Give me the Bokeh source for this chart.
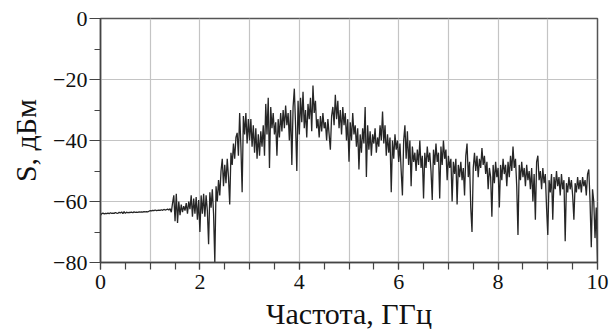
import numpy as np
from bokeh.plotting import figure
from bokeh.models import Range1d, SingleIntervalTicker, FixedTicker, Label
from bokeh.embed import file_html
from bokeh.resources import INLINE

band0 = [-64.5, -64.0, -63.8, -64.1, -63.9, -64.0, -63.8, -64.0, -63.7, -63.9,
         -63.8, -63.9, -63.6, -63.8, -63.9, -63.5, -63.8, -63.4, -64.0, -63.3,
         -63.9, -63.5, -63.7, -63.6, -63.6, -63.5, -63.7, -63.4, -63.6, -63.5,
         -63.6, -63.4, -63.5, -63.4, -63.5, -63.3, -63.4, -63.3, -63.4, -63.2]
band1 = [-63.0, -63.1, -62.9, -63.0, -62.8, -63.0, -62.9, -62.8, -62.9, -62.7,
         -62.9, -62.6, -62.8, -62.7, -62.5, -62.8, -62.4, -63.5, -60.5, -58.0,
         -66.5, -57.5, -67.0, -60.0, -64.5, -61.0, -63.5, -61.5, -63.0, -60.5,
         -64.0, -60.0, -62.5, -58.0, -65.0, -59.0, -64.0, -58.5, -66.0, -59.5]
band2 = [-70.0, -58.0, -64.0, -57.5, -65.0, -58.0, -63.0, -74.0, -57.0, -62.0,
         -56.0, -64.0, -80.0, -55.0, -60.0, -53.0, -58.0, -50.0, -46.0, -55.0,
         -48.0, -54.0, -46.0, -52.0, -61.0, -44.0, -48.0, -41.0, -46.0, -39.0,
         -37.5, -45.0, -31.0, -42.0, -57.0, -32.0, -38.0, -31.0, -41.0, -33.0]
band3 = [-40.0, -33.0, -42.0, -35.0, -44.0, -36.0, -46.0, -38.0, -45.0, -37.0,
         -42.0, -35.0, -45.0, -28.0, -38.0, -26.0, -49.0, -29.0, -36.0, -31.0,
         -38.0, -34.0, -45.0, -33.0, -39.0, -31.0, -37.0, -30.0, -36.0, -28.5,
         -35.0, -31.0, -40.0, -30.0, -48.0, -29.0, -23.0, -35.0, -50.0, -27.0]
band4 = [-38.0, -26.0, -34.0, -24.0, -36.0, -30.0, -39.0, -28.0, -33.0, -26.0,
         -37.0, -22.0, -31.0, -27.0, -36.0, -33.0, -39.0, -32.0, -37.0, -31.0,
         -36.0, -34.0, -40.0, -33.0, -38.0, -43.0, -32.0, -29.0, -35.0, -25.0,
         -33.0, -27.0, -36.0, -30.0, -38.0, -29.0, -35.0, -31.0, -40.0, -33.0]
band5 = [-47.0, -34.0, -40.0, -31.0, -38.0, -35.0, -42.0, -36.0, -49.5, -38.0,
         -44.0, -36.0, -41.0, -29.0, -52.0, -35.0, -43.0, -37.0, -45.0, -38.0,
         -41.0, -36.0, -44.0, -39.0, -42.0, -35.0, -40.0, -30.5, -41.0, -35.0,
         -45.0, -38.0, -44.0, -39.0, -57.0, -40.0, -46.0, -38.0, -43.0, -40.0]
band6 = [-47.0, -41.0, -50.0, -58.0, -40.0, -35.0, -46.0, -37.0, -48.0, -40.0,
         -55.0, -42.0, -47.0, -44.0, -50.0, -43.0, -48.0, -40.0, -49.0, -45.0,
         -59.0, -44.0, -49.0, -42.0, -47.0, -44.0, -50.0, -59.5, -43.0, -48.0,
         -41.0, -47.0, -44.0, -59.0, -42.0, -48.0, -40.0, -46.0, -43.0, -53.0]
band7 = [-45.0, -49.0, -46.0, -60.0, -47.0, -51.0, -46.0, -61.0, -48.0, -52.0,
         -47.0, -53.0, -49.0, -58.0, -45.0, -41.0, -52.0, -47.0, -62.0, -70.0,
         -49.0, -44.0, -50.0, -45.0, -52.0, -46.0, -49.0, -42.5, -48.0, -45.0,
         -51.0, -47.0, -56.0, -49.0, -52.0, -65.0, -48.0, -54.0, -47.0, -52.0]
band8 = [-49.0, -62.0, -48.0, -53.0, -46.0, -51.0, -48.0, -55.0, -47.0, -52.0,
         -45.0, -50.0, -42.0, -49.0, -46.0, -55.0, -71.0, -48.0, -53.0, -47.0,
         -52.0, -49.0, -55.0, -48.0, -53.0, -50.0, -56.0, -49.0, -60.0, -51.0,
         -66.0, -47.0, -45.0, -53.0, -50.0, -56.0, -49.0, -54.0, -51.0, -62.0]
band9 = [-71.0, -53.0, -57.0, -51.0, -66.0, -52.0, -56.0, -50.0, -55.0, -52.0,
         -58.0, -51.0, -56.0, -53.0, -73.0, -54.0, -57.0, -52.0, -56.0, -53.0,
         -58.0, -66.0, -54.0, -57.0, -52.0, -56.0, -53.0, -57.0, -52.0, -55.0,
         -53.0, -58.0, -51.0, -49.5, -60.0, -75.0, -56.0, -60.0, -72.0, -62.0]
end_level = [-80.0]

bands = [band0, band1, band2, band3, band4, band5, band6, band7, band8, band9]

x_major_ticks = [0, 2, 4, 6, 8, 10]
y_major_ticks = [-80, -60, -40, -20, 0]

freq, level = [], []
for k, b in enumerate(bands):
    n = len(b)
    for i, v in enumerate(b):
        freq.append(k + i / n)
        level.append(v)
freq.append(10.0)
level.extend(end_level)

FONT = "Liberation Serif"

p = figure(frame_width=497, frame_height=244,
           x_range=Range1d(0, 10), y_range=Range1d(-80, 0),
           output_backend="svg", toolbar_location=None,
           min_border_left=100, min_border_right=12,
           min_border_top=18, min_border_bottom=64)

p.outline_line_color = "#555555"
p.outline_line_width = 1.5

p.line(freq, level, line_color="#262626", line_width=1.3)

# a blank annotation in the serif face so that the font gets loaded for the page
p.add_layout(Label(x=6, y=8, x_units="screen", y_units="screen", text=".",
                   text_font=FONT, text_font_size="22px", text_color="white"))

p.xaxis.ticker = FixedTicker(ticks=x_major_ticks,
                             minor_ticks=[i * 0.5 for i in range(21)])
p.yaxis.ticker = FixedTicker(ticks=y_major_ticks,
                             minor_ticks=[-70, -50, -30, -10])

p.xaxis.axis_label = "Частота, ГГц"
p.yaxis.axis_label = "S, дБм"
p.xaxis.major_label_text_font = FONT
p.yaxis.major_label_text_font = FONT
p.xaxis.axis_label_text_font = FONT
p.yaxis.axis_label_text_font = FONT
p.xaxis.major_label_text_font_size = "22px"
p.yaxis.major_label_text_font_size = "22px"
p.xaxis.axis_label_text_font_size = "30px"
p.yaxis.axis_label_text_font_size = "30px"
p.xaxis.axis_label_text_font_style = "normal"
p.yaxis.axis_label_text_font_style = "normal"
p.axis.major_label_text_color = "#111111"
p.axis.axis_label_text_color = "#111111"

p.axis.axis_line_color = "#444444"
p.axis.axis_line_width = 1.5
p.axis.major_tick_line_color = "#444444"
p.axis.minor_tick_line_color = "#444444"
p.axis.major_tick_line_width = 1.2
p.axis.minor_tick_line_width = 1.2
p.axis.major_tick_in = 0
p.axis.minor_tick_in = 0

p.xaxis.major_tick_out = 7
p.xaxis.minor_tick_out = 7
p.xaxis.major_label_standoff = 5
p.xaxis.axis_label_standoff = 5

p.yaxis.major_tick_out = 11
p.yaxis.minor_tick_out = 6
p.yaxis.major_label_standoff = 2
p.yaxis.axis_label_standoff = 8

p.xgrid.ticker = SingleIntervalTicker(interval=1)
p.ygrid.ticker = SingleIntervalTicker(interval=20)
p.grid.grid_line_color = "#c4c4c4"
p.grid.grid_line_width = 1.2

open("out.html", "w").write(file_html(p, INLINE))
